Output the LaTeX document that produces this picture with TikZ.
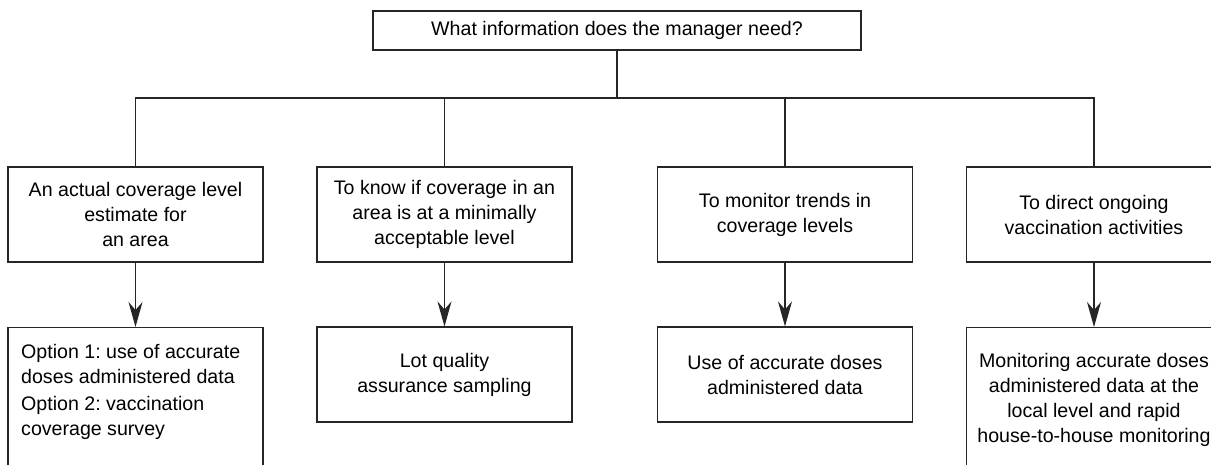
\documentclass[tikz,border=0pt]{standalone}
\usepackage{fontspec}
\setmainfont{Liberation Sans}
\frenchspacing
\usetikzlibrary{arrows.meta}
\begin{document}
\begin{tikzpicture}[x=1pt,y=-1pt,
  box/.style={draw=black!85, line width=1.1pt, rectangle, inner sep=0pt,
    minimum width=255, align=center, font=\fontsize{19.6}{25}\selectfont},
  topbox/.style={draw=black!85, line width=1.1pt, rectangle, inner sep=0pt,
    minimum width=488, minimum height=39, font=\fontsize{19.6}{25}\selectfont},
  txt/.style={inner sep=0pt, font=\fontsize{19.6}{25}\selectfont},
  link/.style={line width=1.1pt, draw=black!85},
  arr/.style={line width=1.1pt, draw=black!85, -{Stealth[length=25pt,width=14pt,inset=8pt]}}]
\useasboundingbox (0,0) rectangle (1211,465);
\clip (0,0) rectangle (1211,465);
% top question
\node[topbox] (q) at (617,30.5) {What information does the manager need?};
% first row
\node[box, minimum height=95] (a1) at (135.5,214.5) {An actual coverage level\\estimate for\\an area};
\node[box, minimum height=95] (a2) at (444.5,214.5) {To know if coverage in an\\area is at a minimally\\acceptable level};
\node[box, minimum height=95] (a3) at (785,214.5) {To monitor trends in\\coverage levels};
\node[box, minimum height=95] (a4) at (1094,214.5) {To direct ongoing\\vaccination activities};
% second row
\node[box, minimum height=180, anchor=north] (b1) at (135.5,327) {};
\node[txt, anchor=north west, align=left] (t1) at (21,344) {Option 1: use of accurate\\doses administered data\\[2.5pt]Option 2: vaccination\\coverage survey};
\node[box, minimum height=95] (b2) at (444.5,374.5) {Lot quality\\assurance sampling};
\node[box, minimum height=95] (b3) at (785,374.5) {Use of accurate doses\\administered data};
\node[box, minimum height=180, anchor=north] (b4) at (1094,327) {};
\node[txt, anchor=north, align=center] (t4) at (1094,353) {Monitoring accurate doses\\administered data at the\\local level and rapid\\house-to-house monitoring};
% tree connectors
\coordinate (j) at (617,98);
\draw[link] (q.south) -- (j);
\draw[link] (a1.north) -- (a1.north|-j) -- (a4.north|-j) -- (a4.north);
\draw[link] (a2.north) -- (a2.north|-j);
\draw[link] (a3.north) -- (a3.north|-j);
% arrows
\draw[arr] (a1.south) -- (b1.north);
\draw[arr] (a2.south) -- (b2.north);
\draw[arr] (a3.south) -- (b3.north);
\draw[arr] (a4.south) -- (b4.north);
\end{tikzpicture}
\end{document}
